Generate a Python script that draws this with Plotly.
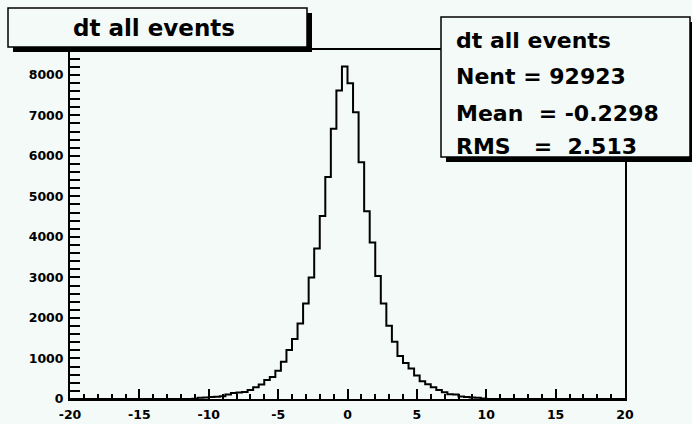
import numpy as np
import plotly.graph_objects as go

# ---------------- data ----------------
x_min, x_max, n_bins = -20.0, 20.0, 100
first_filled_edge = -11.2
counts_filled = [
    5, 30, 40, 50, 55, 65, 110, 150, 160, 170,
    220, 290, 360, 470, 540, 700, 920, 1207, 1478, 1865,
    2357, 2997, 3712, 4515, 5476, 6667, 7611, 8202, 7791, 7077,
    5845, 4631, 3860, 3037, 2357, 1805, 1411, 1059, 890, 750,
    580, 440, 362, 288, 222, 165, 120, 110, 60, 50,
    40, 30, 10,
]
x_ticks = [-20, -15, -10, -5, 0, 5, 10, 15, 20]
x_tick_labels = ["-20", "-15", "-10", "-5", "0", "5", "10", "15", "20"]
y_ticks = [0, 1000, 2000, 3000, 4000, 5000, 6000, 7000, 8000]
y_tick_labels = ["0", "1000", "2000", "3000", "4000", "5000", "6000", "7000", "8000"]
title_text = "dt all events"
stats_lines = ["dt all events", "Nent = 92923", "Mean\u00a0\u00a0= -0.2298", "RMS\u00a0\u00a0\u00a0=\u00a0\u00a02.513"]

# ---------------- build histogram ----------------
bw = (x_max - x_min) / n_bins
edges = x_min + bw * np.arange(n_bins + 1)
counts = np.zeros(n_bins)
i0 = int(round((first_filled_edge - x_min) / bw))
counts[i0:i0 + len(counts_filled)] = counts_filled
y_step = np.append(counts, counts[-1])
y_top = counts.max() * 1.05

W, H = 692, 424
L, R, T, B = 70, 67, 50, 25
pw, ph = W - L - R, H - T - B
BG = "#f4faf7"

def px(x):
    return (x - L) / pw

def py(y):
    return (H - B - y) / ph

fig = go.Figure()
fig.add_trace(go.Scatter(x=edges, y=y_step, mode="lines", line=dict(color="black", width=2, shape="hv"),
                         hoverinfo="skip", showlegend=False))

shapes = []
def box(x0, y0, x1, y1, sh=5):
    shapes.append(dict(type="rect", xref="paper", yref="paper", x0=px(x0 + sh), x1=px(x1 + sh),
                       y0=py(y1 + sh), y1=py(y0 + sh), fillcolor="black", line=dict(width=0), layer="above"))
    shapes.append(dict(type="rect", xref="paper", yref="paper", x0=px(x0), x1=px(x1),
                       y0=py(y1), y1=py(y0), fillcolor=BG, line=dict(color="black", width=1.5), layer="above"))

box(8, 8, 307, 47)
box(441, 17, 690, 157)

annotations = [dict(text=title_text, xref="paper", yref="paper", x=px(154), y=py(28), showarrow=False,
                     xanchor="center", yanchor="middle",
                     font=dict(family="DejaVu Sans", size=23, color="black", weight="bold"))]
for txt, yy in zip(stats_lines, [40, 77, 113, 146]):
    annotations.append(dict(text=txt, xref="paper", yref="paper", x=px(454), y=py(yy), showarrow=False,
                            xanchor="left", yanchor="middle",
                            font=dict(family="DejaVu Sans", size=22, color="black", weight="bold")))

tickfont = dict(family="DejaVu Sans", size=12.5, color="black", weight="bold")
fig.update_layout(
    width=W, height=H, autosize=False,
    margin=dict(l=L, r=R, t=T, b=B, pad=0, autoexpand=False),
    paper_bgcolor=BG, plot_bgcolor=BG,
    shapes=shapes, annotations=annotations,
    xaxis=dict(range=[x_min, x_max], tickvals=x_ticks, ticktext=x_tick_labels, ticks="inside", ticklen=10,
               tickwidth=1.5, tickcolor="black", showline=True, linecolor="black", linewidth=2, mirror=True,
               showgrid=False, zeroline=False, tickfont=tickfont, ticklabelstandoff=3, automargin=False,
               minor=dict(dtick=1, tick0=-20, ticks="inside", ticklen=5, tickwidth=1.5, tickcolor="black", showgrid=False)),
    yaxis=dict(range=[0, y_top], tickvals=y_ticks, ticktext=y_tick_labels, ticks="inside", ticklen=10,
               tickwidth=1.5, tickcolor="black", showline=True, linecolor="black", linewidth=2, mirror=True,
               showgrid=False, zeroline=False, tickfont=tickfont, ticklabelstandoff=2, automargin=False,
               minor=dict(dtick=200, tick0=0, ticks="inside", ticklen=10, tickwidth=1.5, tickcolor="black", showgrid=False)),
)
fig.write_html("out.html")
